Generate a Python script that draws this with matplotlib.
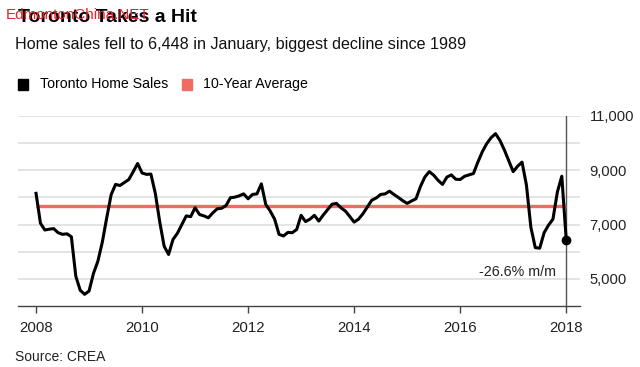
import numpy as np
import matplotlib
matplotlib.use("Agg")
import matplotlib.pyplot as plt

# monthly Toronto home sales, Jan 2008 - Jan 2018
sales = [8150, 7050, 6800, 6830, 6850, 6700, 6640, 6660, 6550, 5100, 4580, 4430,
         4550, 5200, 5650, 6350, 7250, 8100, 8480, 8440, 8550, 8660, 8950, 9250,
         8900, 8850, 8860, 8150, 7100, 6200, 5900, 6450, 6680, 7000, 7320, 7290,
         7620, 7370, 7320, 7250, 7430, 7580, 7600, 7700, 7990, 8010, 8060, 8130,
         7950, 8110, 8130, 8500, 7740, 7500, 7200, 6640, 6580, 6710, 6700, 6820,
         7340, 7110, 7200, 7340, 7130, 7350, 7550, 7750, 7780, 7620, 7500, 7300,
         7090, 7200, 7400, 7650, 7900, 7980, 8110, 8130, 8230, 8110, 8000, 7880,
         7780, 7870, 7950, 8400, 8750, 8950, 8820, 8630, 8480, 8750, 8830, 8670,
         8660, 8780, 8830, 8880, 9300, 9680, 9980, 10200, 10350, 10100, 9750, 9350,
         8950, 9150, 9300, 8450, 6900, 6150, 6130, 6700, 6980, 7200, 8200, 8780,
         6448]
start_year = 2008
avg_value = 7700
avg_span = [2008, 2018]
year_ticks = [2008, 2010, 2012, 2014, 2016, 2018]
y_grid = [5000, 6000, 7000, 8000, 9000, 10000, 11000]
y_ticks = [5000, 7000, 9000, 11000]
y_labels = ["5,000", "7,000", "9,000", "11,000"]
note = "-26.6% m/m"

months = start_year + np.arange(len(sales)) / 12.0

plt.rcParams['font.family'] = ['Liberation Sans', 'DejaVu Sans']

fig = plt.figure(figsize=(6.4, 3.67), dpi=100)
ax = fig.add_axes([18 / 640, 1 - 306 / 367, 562 / 640, 190 / 367])

# gridlines
for g in y_grid:
    ax.axhline(g, color='#dcdcdc', lw=1.1, zorder=0)

ax.plot(avg_span, [avg_value, avg_value], color='#f26b63', lw=2.4, zorder=2,
        solid_capstyle='butt')
ax.plot(months, sales, color='black', lw=2.2, zorder=3, solid_joinstyle='round')
ax.plot(months[-1], sales[-1], 'o', color='black', ms=6, zorder=4)
ax.axvline(months[-1], color='#555555', lw=1.0, zorder=1)

ax.text(months[-1] - 0.19, 5270, note, ha='right', va='center', fontsize=10.3,
        color='#222222')

ax.set_xlim(2007.66, 2018.26)
ax.set_ylim(4000, 11000)

ax.set_xticks(year_ticks)
ax.set_xticklabels([str(y) for y in year_ticks], fontsize=10.8, color='#222222')
ax.tick_params(axis='x', length=5, width=1, color='#444444', pad=6)

ax.yaxis.tick_right()
ax.set_yticks(y_ticks)
ax.set_yticklabels(y_labels, fontsize=10.6, color='#222222')
ax.tick_params(axis='y', length=0, pad=7)

for s in ['top', 'left', 'right']:
    ax.spines[s].set_visible(False)
ax.spines['bottom'].set_color('#444444')
ax.spines['bottom'].set_linewidth(1.0)

# header (watermark sits on top of the title in the original)
fig.text(18 / 640, 1 - 17 / 367, "Toronto Takes a Hit", fontsize=14, fontweight='bold',
         va='center', ha='left')
fig.text(6 / 640, 1 - 15 / 367, "EdmontonChina.NET", fontsize=11, color='#e5232b',
         va='center', ha='left')
fig.text(15 / 640, 1 - 44 / 367, "Home sales fell to 6,448 in January, biggest decline since 1989",
         fontsize=11.6, va='center', ha='left', color='#111111')

# legend
fig.patches.append(plt.Rectangle((18 / 640, 1 - 90 / 367), 10 / 640, 11 / 367,
                                 transform=fig.transFigure, color='black'))
fig.text(40 / 640, 1 - 84 / 367, "Toronto Home Sales", fontsize=10.2, va='center')
fig.patches.append(plt.Rectangle((182 / 640, 1 - 90 / 367), 10 / 640, 11 / 367,
                                 transform=fig.transFigure, color='#f26b63'))
fig.text(203 / 640, 1 - 84 / 367, "10-Year Average", fontsize=10.2, va='center')

fig.text(15 / 640, 1 - 357 / 367, "Source: CREA", fontsize=10, va='center', color='#222222')

fig.savefig("out.png", dpi=100)
